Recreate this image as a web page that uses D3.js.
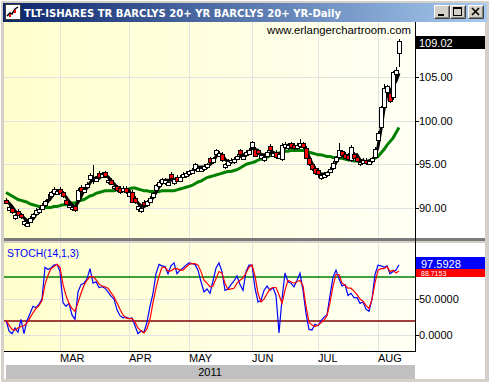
<!DOCTYPE html>
<html>
<head>
<meta charset="utf-8">
<script src="https://cdn.jsdelivr.net/npm/d3@7"></script>
<style>
  html, body { margin: 0; padding: 0; background: #d4d0c8; overflow: hidden; }
  svg { display: block; }
  text { font-family: "Liberation Sans", Arial, sans-serif; }
</style>
</head>
<body>
<div id="chart"></div>
<script>
// ---- data (one value per trading day, 2 Feb .. 10 Aug 2011) ----
const opens = [
  91.0, 89.9, 90.0, 88.9, 89.7, 89.3, 88.2, 88.0, 88.5, 89.0,
  89.4, 89.6, 90.0, 90.4, 91.0, 91.3, 91.8, 91.7, 92.2, 91.8,
  91.0, 90.2, 89.9, 90.3, 91.0, 92.4, 91.9, 92.5, 93.3, 93.1,
  93.2, 94.0, 93.6, 94.1, 93.0, 93.2, 92.3, 92.5, 92.3, 92.0,
  92.3, 91.5, 91.9, 91.2, 90.0, 89.7, 90.7, 90.4, 90.8, 91.3,
  92.0, 92.6, 92.9, 92.9, 92.7, 93.9, 92.9, 93.6, 93.2, 93.6,
  93.7, 93.9, 94.1, 94.4, 94.3, 94.3, 94.5, 94.7, 95.7, 95.3,
  96.1, 96.0, 96.2, 94.7, 95.0, 95.3, 95.3, 95.7, 96.6, 95.7,
  96.1, 96.3, 96.9, 96.8, 96.6, 95.8, 95.5, 96.0, 97.1, 96.0,
  96.4, 95.8, 95.6, 97.0, 96.9, 97.4, 97.2, 96.9, 97.1, 97.4,
  96.9, 95.7, 95.0, 94.6, 94.4, 93.5, 93.6, 93.8, 94.2, 94.6,
  95.3, 95.8, 96.5, 96.2, 96.1, 95.5, 96.2, 95.9, 95.1, 95.2,
  95.5, 95.1, 95.4, 95.9, 97.8, 99.2, 101.5, 103.2, 103.2, 102.6,
  105.3, 107.6
];
const highs = [
  91.2, 90.4, 90.2, 89.4, 89.9, 89.5, 88.7, 88.5, 89.1, 89.5,
  90.0, 90.1, 90.6, 91.0, 91.6, 92.0, 92.4, 92.2, 92.4, 92.0,
  91.2, 90.6, 90.3, 90.5, 92.3, 92.6, 92.4, 93.0, 94.0, 94.9,
  93.7, 94.2, 94.1, 94.3, 93.4, 93.4, 92.7, 92.7, 92.5, 92.5,
  92.5, 92.1, 92.1, 91.4, 90.5, 90.2, 90.9, 91.0, 91.4, 91.9,
  92.8, 93.2, 93.5, 93.4, 93.2, 94.1, 93.5, 93.8, 93.8, 94.1,
  94.2, 94.4, 94.6, 95.2, 94.8, 94.8, 95.0, 95.2, 95.9, 95.9,
  96.8, 96.5, 96.4, 95.2, 95.6, 95.7, 95.8, 96.2, 96.8, 96.2,
  96.6, 96.9, 97.7, 97.0, 96.8, 96.3, 96.0, 96.6, 97.3, 96.5,
  96.6, 96.4, 97.4, 97.5, 97.4, 97.6, 97.4, 97.4, 97.9, 97.6,
  97.1, 95.9, 95.2, 94.8, 94.6, 94.0, 94.1, 94.3, 94.7, 95.4,
  96.0, 97.4, 96.7, 96.4, 96.3, 97.2, 96.4, 96.1, 95.5, 95.7,
  95.7, 95.6, 95.9, 97.0, 98.8, 101.7, 104.2, 104.1, 103.4, 105.7,
  106.1, 109.3
];
const lows = [
  90.5, 89.7, 89.4, 88.7, 89.1, 88.8, 88.0, 87.9, 88.3, 88.8,
  89.2, 89.4, 89.8, 90.2, 90.6, 91.1, 91.6, 91.5, 91.6, 91.2,
  90.4, 90.0, 89.7, 89.6, 90.8, 91.8, 91.7, 92.3, 93.1, 92.8,
  93.0, 93.4, 93.4, 93.5, 92.8, 92.6, 92.1, 91.8, 91.6, 91.8,
  91.6, 91.3, 90.6, 90.5, 89.6, 89.5, 90.2, 90.2, 90.6, 91.1,
  91.8, 92.4, 92.7, 92.7, 92.5, 93.3, 92.7, 93.0, 93.0, 93.4,
  93.5, 93.7, 93.9, 94.2, 94.1, 94.1, 94.3, 94.5, 95.1, 95.1,
  95.9, 95.8, 95.3, 94.5, 94.8, 95.1, 95.1, 95.5, 96.0, 95.5,
  95.9, 96.1, 96.7, 95.8, 96.1, 95.6, 95.3, 95.8, 96.4, 95.8,
  95.6, 95.6, 95.4, 96.8, 96.7, 96.8, 96.7, 96.7, 96.9, 96.8,
  95.6, 94.8, 94.2, 93.8, 93.5, 93.2, 93.4, 93.6, 94.0, 94.4,
  95.1, 95.6, 95.8, 95.6, 95.4, 95.3, 95.6, 95.3, 94.8, 95.0,
  94.9, 94.9, 95.2, 95.7, 97.6, 99.0, 101.3, 103.0, 102.0, 102.4,
  105.1, 106.1
];
const closes = [
  90.7, 90.2, 89.6, 89.2, 89.3, 89.0, 88.5, 88.3, 88.9, 89.3,
  89.8, 89.9, 90.4, 90.8, 91.1, 91.8, 92.2, 92.0, 91.8, 91.4,
  90.6, 90.4, 90.1, 89.8, 92.1, 92.0, 92.2, 92.8, 93.8, 93.2,
  93.5, 93.6, 93.9, 93.7, 93.2, 92.8, 92.5, 92.0, 91.8, 92.3,
  91.8, 91.9, 90.8, 90.7, 90.3, 90.0, 90.4, 90.8, 91.2, 91.7,
  92.6, 93.0, 93.3, 93.2, 93.0, 93.5, 93.3, 93.2, 93.6, 93.9,
  94.0, 94.2, 94.4, 95.0, 94.6, 94.6, 94.8, 95.0, 95.3, 95.7,
  96.6, 96.3, 95.5, 95.0, 95.4, 95.5, 95.6, 96.0, 96.2, 96.0,
  96.4, 96.7, 97.5, 96.0, 96.3, 96.1, 95.8, 96.4, 96.6, 96.3,
  95.8, 96.2, 97.2, 97.3, 97.2, 97.0, 96.9, 97.2, 97.4, 97.0,
  95.8, 95.0, 94.4, 94.0, 93.9, 93.8, 93.9, 94.1, 94.5, 95.2,
  95.8, 96.6, 96.0, 95.8, 95.6, 97.0, 95.8, 95.5, 95.3, 95.5,
  95.2, 95.4, 95.7, 96.8, 98.6, 101.5, 103.7, 103.9, 102.3, 105.5,
  105.8, 109.02
];
// short moving average (thick black line)
const fastMA = [
  90.9, 90.6, 90.2, 89.7, 89.4, 89.2, 88.9, 88.6, 88.6, 88.8,
  89.3, 89.7, 90.0, 90.4, 90.8, 91.2, 91.7, 92.0, 92.0, 91.7,
  91.3, 90.8, 90.4, 90.1, 90.7, 91.3, 92.1, 92.3, 92.9, 93.3,
  93.5, 93.4, 93.7, 93.7, 93.6, 93.2, 92.8, 92.4, 92.1, 92.0,
  92.0, 92.0, 91.5, 91.1, 90.6, 90.3, 90.2, 90.4, 90.8, 91.2,
  91.8, 92.4, 93.0, 93.2, 93.2, 93.2, 93.3, 93.3, 93.4, 93.6,
  93.8, 94.0, 94.2, 94.5, 94.7, 94.7, 94.7, 94.8, 95.0, 95.3,
  95.9, 96.2, 96.1, 95.6, 95.3, 95.3, 95.3, 95.7, 95.9, 96.1,
  96.2, 96.4, 96.9, 96.7, 96.6, 96.1, 96.1, 96.1, 96.3, 96.4,
  96.2, 96.1, 96.4, 96.9, 97.2, 97.2, 97.0, 97.0, 97.2, 97.2,
  96.7, 95.9, 95.1, 94.5, 94.1, 93.9, 93.9, 93.9, 94.2, 94.6,
  95.2, 95.9, 96.1, 96.1, 95.8, 96.1, 96.1, 96.1, 95.5, 95.4,
  95.3, 95.4, 95.4, 96.0, 97.0, 99.0, 101.3, 103.0, 103.3, 103.9,
  104.5, 105.4
];
// slow moving average (green line)
const slowMA = [
  91.8, 91.6, 91.4, 91.2, 91.0, 90.9, 90.8, 90.7, 90.5, 90.4,
  90.3, 90.2, 90.1, 90.1, 90.1, 90.1, 90.2, 90.2, 90.3, 90.4,
  90.4, 90.5, 90.6, 90.6, 90.8, 90.9, 91.0, 91.2, 91.4, 91.5,
  91.7, 91.8, 91.9, 92.0, 92.0, 92.0, 92.0, 92.1, 92.1, 92.1,
  92.1, 92.2, 92.3, 92.3, 92.2, 92.1, 92.0, 92.0, 91.9, 91.9,
  91.9, 91.9, 92.0, 92.0, 92.0, 92.0, 92.0, 92.1, 92.2, 92.3,
  92.4, 92.5, 92.6, 92.8, 93.0, 93.1, 93.3, 93.5, 93.6, 93.7,
  93.8, 93.9, 94.0, 94.1, 94.2, 94.2, 94.3, 94.4, 94.6, 94.8,
  95.0, 95.1, 95.2, 95.3, 95.5, 95.6, 95.7, 95.8, 96.0, 96.1,
  96.2, 96.3, 96.4, 96.5, 96.5, 96.6, 96.6, 96.6, 96.6, 96.6,
  96.5, 96.4, 96.3, 96.2, 96.1, 96.1, 96.0, 95.9, 95.9, 95.8,
  95.8, 95.7, 95.7, 95.6, 95.5, 95.5, 95.4, 95.4, 95.3, 95.3,
  95.3, 95.4, 95.5, 95.7, 95.9, 96.3, 96.7, 97.2, 97.6, 98.0,
  98.6, 99.2
];
// STOCH(14,1,3): %K (blue) and %D (red)
const stochK = [
  21, 6, 2, 10, 4, 22, 2, 20, 30, 40,
  38, 43, 50, 94, 91, 93, 97, 98, 88, 45,
  40, 44, 28, 22, 60, 70, 72, 78, 92, 72,
  74, 66, 67, 65, 60, 54, 50, 35, 27, 24,
  25, 23, 24, 13, 2, 6, 4, 18, 40, 58,
  85, 98, 96, 95, 85, 96, 100, 85, 90, 93,
  97, 100, 99, 98, 90, 74, 60, 64, 58, 75,
  93, 100, 88, 62, 64, 70, 75, 82, 70, 62,
  88, 97, 97, 65, 46, 48, 62, 68, 62, 66,
  55, 3, 50, 86, 74, 72, 67, 76, 86, 62,
  30, 8, 7, 15, 13, 20, 25, 28, 55, 80,
  90, 78, 68, 70, 55, 58, 52, 52, 44, 46,
  36, 33, 50, 84, 97, 96, 94, 96, 85, 88,
  90, 97.5928
];
const stochD = [
  21, 14, 8, 7, 10, 12, 13, 17, 24, 31,
  37, 41, 48, 70, 83, 92, 95, 98, 94, 70,
  55, 44, 37, 33, 45, 58, 69, 76, 81, 81,
  77, 71, 68, 67, 65, 59, 53, 45, 36, 28,
  24, 23, 23, 18, 10, 6, 3, 9, 22, 45,
  65, 82, 94, 94, 89, 89, 92, 92, 90, 90,
  94, 98, 99, 99, 97, 88, 76, 72, 67, 68,
  78, 88, 86, 72, 63, 64, 65, 72, 76, 79,
  86, 94, 97, 82, 58, 46, 50, 57, 64, 66,
  66, 56, 44, 62, 76, 74, 72, 74, 76, 68,
  40, 18, 14, 12, 14, 17, 21, 27, 45, 68,
  84, 84, 72, 69, 65, 65, 61, 56, 50, 47,
  41, 37, 50, 72, 90, 92, 92, 95, 88, 90,
  86, 88.7153
];
const monthLabels = ["MAR", "APR", "MAY", "JUN", "JUL", "AUG"];
const monthFirstBar = [18, 41, 61, 82, 104, 124];
const priceTicks = [90, 95, 100, 105];
const stochTicks = [0, 50];
const stochLevels = [80, 20];
const yearLabel = "2011";
const titleText = "TLT-ISHARES TR BARCLYS 20+ YR BARCLYS 20+ YR-Daily";

// ---- layout ----
const W = 490, H = 383;
const plotL = 4, plotR = 415, boxR = 485;
const pTop = 22, pBot = 238, sTop = 243, sBot = 351;

const svg = d3.select("#chart").append("svg").attr("width", W).attr("height", H);
const defs = svg.append("defs");

const tg = defs.append("linearGradient").attr("id", "titleGrad").attr("x1", 0).attr("x2", 1).attr("y1", 0).attr("y2", 0);
tg.append("stop").attr("offset", "0%").attr("stop-color", "#0a246a");
tg.append("stop").attr("offset", "100%").attr("stop-color", "#a6caf0");

const bg = defs.append("linearGradient").attr("id", "plotGrad")
  .attr("gradientUnits", "userSpaceOnUse").attr("x1", plotL).attr("x2", plotR).attr("y1", 0).attr("y2", 0);
bg.append("stop").attr("offset", "0%").attr("stop-color", "#ffffcc");
bg.append("stop").attr("offset", "100%").attr("stop-color", "#fffff5");

// window frame
svg.append("rect").attr("width", W).attr("height", H).attr("fill", "#d4d0c8");
svg.append("rect").attr("x", 0.5).attr("y", 0.5).attr("width", W - 1).attr("height", H - 1)
  .attr("fill", "none").attr("stroke", "#ffffff");
svg.append("rect").attr("x", 3).attr("y", 3).attr("width", 484).attr("height", 19).attr("fill", "url(#titleGrad)");

// icon
const icon = svg.append("g").attr("transform", "translate(5,4)");
icon.append("rect").attr("x", 0.5).attr("y", 0.5).attr("width", 15).attr("height", 15)
  .attr("fill", "#ffffff").attr("stroke", "#404040");
icon.append("path").attr("d", "M2,12 L5,9 L7,10 L10,5 L13,3").attr("fill", "none").attr("stroke", "#000").attr("stroke-width", 1.5);
icon.append("rect").attr("x", 4).attr("y", 10).attr("width", 2).attr("height", 3).attr("fill", "#ff0000");
icon.append("rect").attr("x", 9).attr("y", 6).attr("width", 2).attr("height", 3).attr("fill", "#ff0000");

svg.append("text").attr("x", 24).attr("y", 16.5).text(titleText)
  .attr("fill", "#ffffff").style("font-family", "'DejaVu Sans', sans-serif").style("font-weight", "bold")
  .style("font-size", "10px").attr("textLength", 317).attr("lengthAdjust", "spacingAndGlyphs");

// title buttons
function button(x, kind) {
  const b = svg.append("g").attr("transform", `translate(${x},5)`);
  b.append("rect").attr("width", 16).attr("height", 14).attr("fill", "#d4d0c8");
  b.append("path").attr("d", "M0.5,13.5 V0.5 H15.5").attr("fill", "none").attr("stroke", "#ffffff");
  b.append("path").attr("d", "M0.5,13.5 H15.5 V0.5").attr("fill", "none").attr("stroke", "#404040");
  b.append("path").attr("d", "M1.5,12.5 H14.5 V1.5").attr("fill", "none").attr("stroke", "#808080");
  if (kind === "min") {
    b.append("rect").attr("x", 4).attr("y", 9).attr("width", 6).attr("height", 2).attr("fill", "#000");
  } else if (kind === "max") {
    b.append("rect").attr("x", 3.5).attr("y", 2.5).attr("width", 8).attr("height", 8).attr("fill", "none").attr("stroke", "#000");
    b.append("rect").attr("x", 3).attr("y", 2).attr("width", 9).attr("height", 2).attr("fill", "#000");
  } else {
    b.append("path").attr("d", "M4,3 L11,10 M11,3 L4,10").attr("stroke", "#000").attr("stroke-width", 1.6);
  }
}
button(434, "min");
button(450, "max");
button(468, "close");

// content area
svg.append("rect").attr("x", plotL).attr("y", pTop).attr("width", boxR - plotL).attr("height", 379 - pTop).attr("fill", "#ffffff");
svg.append("rect").attr("x", plotL).attr("y", pTop).attr("width", plotR - plotL).attr("height", pBot - pTop).attr("fill", "url(#plotGrad)");
svg.append("rect").attr("x", plotL).attr("y", sTop).attr("width", plotR - plotL).attr("height", sBot - sTop).attr("fill", "url(#plotGrad)");
// splitter
svg.append("rect").attr("x", plotL).attr("y", pBot).attr("width", boxR - plotL).attr("height", 3).attr("fill", "#7a7a7a");
svg.append("rect").attr("x", plotL).attr("y", pBot + 3).attr("width", boxR - plotL).attr("height", 2).attr("fill", "#d4d0c8");
// year strip
svg.append("rect").attr("x", 6).attr("y", 365).attr("width", plotR - 6).attr("height", 14).attr("fill", "#c0c0c0");

// ---- scales ----
const n = closes.length;
const x = d3.scaleLinear().domain([-0.667, 136.333]).range([plotL, plotR]);
const yP = d3.scaleLinear().domain([86.61, 111.24]).range([pBot, pTop]);
const yS = d3.scaleLinear().domain([-21.9, 127.6]).range([sBot, sTop]);
const px = i => Math.round(x(i)) + 0.5;

// gridlines
const grid = svg.append("g").attr("stroke", "#e2e2e2").attr("shape-rendering", "crispEdges");
monthFirstBar.forEach(i => {
  grid.append("line").attr("x1", px(i)).attr("x2", px(i)).attr("y1", pTop).attr("y2", pBot);
  grid.append("line").attr("x1", px(i)).attr("x2", px(i)).attr("y1", sTop).attr("y2", sBot);
});
priceTicks.forEach(v => {
  const yy = Math.round(yP(v)) + 0.5;
  grid.append("line").attr("x1", plotL).attr("x2", plotR).attr("y1", yy).attr("y2", yy);
});
stochTicks.forEach(v => {
  const yy = Math.round(yS(v)) + 0.5;
  grid.append("line").attr("x1", plotL).attr("x2", plotR).attr("y1", yy).attr("y2", yy);
});

// ---- price panel ----
const idx = d3.range(n);
const priceLine = arr => d3.line().x(i => x(i)).y(i => yP(arr[i]))(idx);
svg.append("path").attr("d", priceLine(slowMA)).attr("fill", "none")
  .attr("stroke", "#008000").attr("stroke-width", 3);
svg.append("path").attr("d", priceLine(fastMA)).attr("fill", "none")
  .attr("stroke", "#000000").attr("stroke-width", 3);

const candles = svg.append("g").attr("shape-rendering", "crispEdges");
candles.selectAll("line.wick").data(idx).join("line").attr("class", "wick")
  .attr("x1", px).attr("x2", px)
  .attr("y1", i => yP(highs[i])).attr("y2", i => yP(lows[i]))
  .attr("stroke", "#000");
candles.selectAll("rect.body").data(idx).join("rect").attr("class", "body")
  .attr("x", i => px(i) - 2)
  .attr("y", i => Math.round(yP(Math.max(opens[i], closes[i]))) + 0.5)
  .attr("width", 4)
  .attr("height", i => Math.max(1, Math.round(Math.abs(yP(opens[i]) - yP(closes[i])))))
  .attr("fill", i => closes[i] >= opens[i] ? "#ffffff" : "#ff0000")
  .attr("stroke", "#000");

svg.append("text").attr("x", 411).attr("y", 34).attr("text-anchor", "end")
  .style("font-size", "11px").attr("fill", "#000")
  .attr("textLength", 144).attr("lengthAdjust", "spacingAndGlyphs")
  .text("www.erlangerchartroom.com");

// ---- stochastic panel ----
const lvColors = ["#008000", "#800000"];
stochLevels.forEach((v, k) => {
  const yy = Math.round(yS(v));
  svg.append("line").attr("x1", plotL).attr("x2", plotR).attr("y1", yy).attr("y2", yy)
    .attr("stroke", lvColors[k]).attr("stroke-width", 1.5);
});
const stochLine = arr => d3.line().x(i => x(i)).y(i => yS(arr[i]))(idx);
svg.append("path").attr("d", stochLine(stochK)).attr("fill", "none")
  .attr("stroke", "#0000ff").attr("stroke-width", 1.2);
svg.append("path").attr("d", stochLine(stochD)).attr("fill", "none")
  .attr("stroke", "#ff0000").attr("stroke-width", 1.2);

svg.append("text").attr("x", 7).attr("y", 257).style("font-size", "11px")
  .attr("fill", "#0000ff").attr("textLength", 72).attr("lengthAdjust", "spacingAndGlyphs")
  .text("STOCH(14,1,3)");

// ---- axes ----
const axisP = svg.append("g").attr("transform", `translate(${plotR},0)`)
  .call(d3.axisRight(yP).tickValues(priceTicks).tickFormat(d3.format(".2f")).tickSize(4).tickPadding(0));
const axisS = svg.append("g").attr("transform", `translate(${plotR},0)`)
  .call(d3.axisRight(yS).tickValues(stochTicks).tickFormat(d3.format(".4f")).tickSize(4).tickPadding(0));
[axisP, axisS].forEach(a => {
  a.select(".domain").remove();
  a.selectAll("line").attr("stroke", "#000").attr("shape-rendering", "crispEdges");
  a.selectAll("text").style("font-family", "'Liberation Sans', Arial, sans-serif")
    .style("font-size", "11px").attr("fill", "#000");
});

const axisX = svg.append("g").attr("transform", `translate(0,${sBot})`)
  .call(d3.axisBottom(x).tickValues(monthFirstBar).tickFormat((d, k) => monthLabels[k]).tickSize(0).tickPadding(3));
axisX.select(".domain").remove();
axisX.selectAll("text").attr("text-anchor", "start").attr("x", -0.5)
  .style("font-family", "'Liberation Sans', Arial, sans-serif").style("font-size", "11px").attr("fill", "#000");

svg.append("text").attr("x", 210).attr("y", 376).attr("text-anchor", "middle")
  .style("font-size", "11px").attr("fill", "#000").text(yearLabel);

// frame lines of plot
const frame = svg.append("g").attr("stroke", "#000").attr("shape-rendering", "crispEdges");
frame.append("line").attr("x1", plotR + 0.5).attr("x2", plotR + 0.5).attr("y1", pTop).attr("y2", sBot);
frame.append("line").attr("x1", plotL).attr("x2", plotR + 1).attr("y1", sBot + 0.5).attr("y2", sBot + 0.5);

// last value boxes
const fmt2 = d3.format(".2f"), fmt4 = d3.format(".4f");
svg.append("rect").attr("x", plotR + 1).attr("y", 36).attr("width", boxR - plotR - 1).attr("height", 13).attr("fill", "#000");
svg.append("text").attr("x", 419).attr("y", 46.5).style("font-size", "11px").attr("fill", "#fff").text(fmt2(closes[n - 1]));

svg.append("rect").attr("x", plotR + 1).attr("y", 257).attr("width", boxR - plotR - 1).attr("height", 12).attr("fill", "#0000ff");
svg.append("text").attr("x", 421).attr("y", 267.5).style("font-size", "11px").attr("fill", "#fff").text(fmt4(stochK[n - 1]));
svg.append("rect").attr("x", plotR + 1).attr("y", 269).attr("width", boxR - plotR - 1).attr("height", 8).attr("fill", "#ff0000");
svg.append("text").attr("x", 421).attr("y", 276).style("font-size", "7px").attr("fill", "#fff").text(fmt4(stochD[n - 1]));
</script>
</body>
</html>
